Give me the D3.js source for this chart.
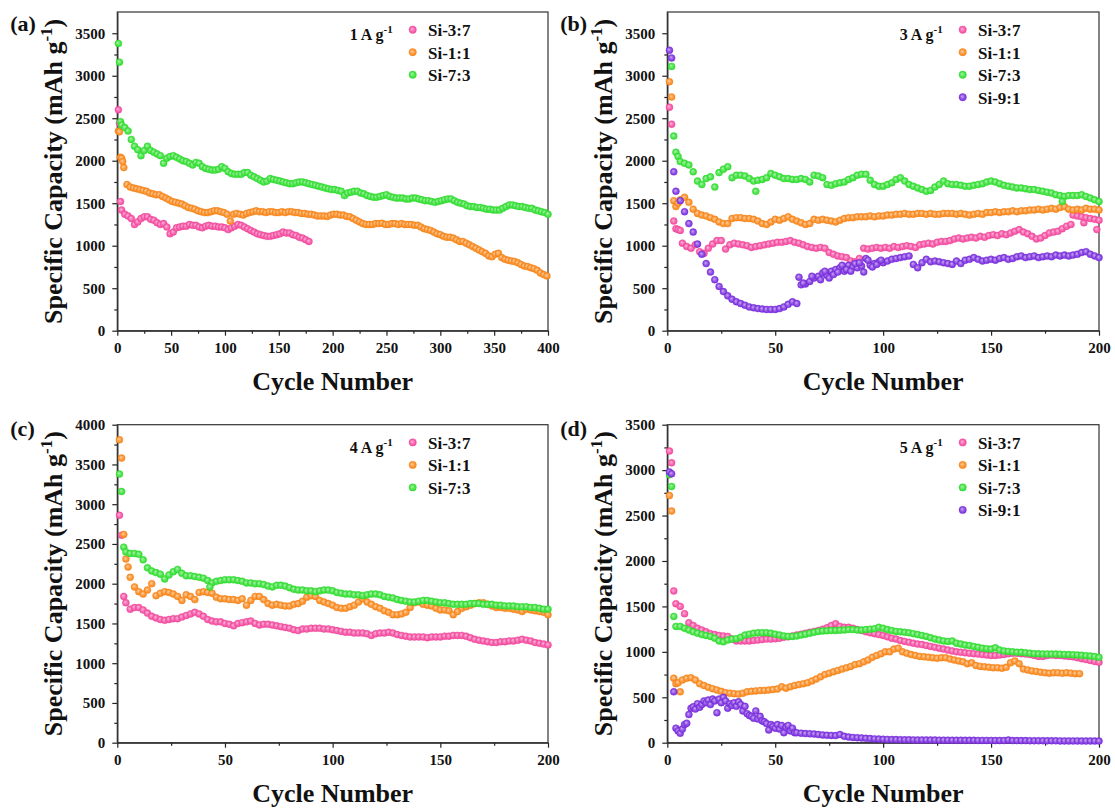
<!DOCTYPE html>
<html>
<head>
<meta charset="utf-8">
<script src="https://cdn.jsdelivr.net/npm/d3@7"></script>
<style>
body { margin: 0; background: #fff; }
svg text { font-family: "Liberation Serif", "Times New Roman", serif; font-weight: bold; fill: #111; }
</style>
</head>
<body>
<svg id="chart" width="1115" height="811"></svg>
<script>
// ---- data (cycle number -> capacity, mAh/g) ----
// *_HEAD / *_EXTRA are explicit [cycle, value] pairs, the plain arrays are
// values at regular cycles (start/step given in the panel table below)

const SERIES_NAMES = ["Si-3:7", "Si-1:1", "Si-7:3", "Si-9:1"];
const RATES = ["1", "3", "4", "5"];
const X_TICKS_A = [0, 50, 100, 150, 200, 250, 300, 350, 400];
const X_TICKS = [0, 50, 100, 150, 200];
const Y_TICKS = [0, 500, 1000, 1500, 2000, 2500, 3000, 3500];
const Y_TICKS_C = [0, 500, 1000, 1500, 2000, 2500, 3000, 3500, 4000];

// (a) 1 A/g
const A_SI37_HEAD = [[1, 2600], [2, 2440], [3, 1520]];
const A_SI37 = [1420,1370,1350,1320,1250,1280,1320,1340,1340,1310,1300,1270,1250,1260,1220,1140,1160,1210,1220,1230,
  1230,1250,1240,1240,1220,1210,1230,1240,1230,1230,1220,1220,1210,1190,1210,1230,1250,1240,1220,1200,
  1180,1160,1140,1130,1120,1110,1110,1120,1130,1140,1160,1150,1150,1130,1120,1100,1090,1070,1050];
const A_SI11_HEAD = [[1, 2350], [2, 2340], [3, 2040], [4, 2030], [5, 1990]];
const A_SI11 = [1920,1720,1690,1680,1670,1660,1650,1640,1620,1610,1600,1600,1580,1560,1540,1520,1510,1500,1490,1470,
  1450,1440,1430,1410,1400,1390,1390,1400,1410,1410,1400,1390,1370,1290,1370,1380,1370,1360,1380,1390,
  1400,1410,1400,1400,1390,1400,1400,1390,1390,1400,1390,1400,1400,1390,1390,1380,1380,1370,1370,1360,
  1350,1350,1350,1345,1360,1370,1370,1360,1360,1345,1340,1320,1300,1280,1260,1250,1250,1250,1260,1260,
  1265,1250,1250,1260,1260,1250,1260,1250,1250,1250,1240,1240,1220,1200,1190,1180,1160,1140,1130,1110,
  1100,1100,1090,1070,1050,1050,1030,1010,990,970,950,930,910,880,870,900,910,860,840,830,
  820,815,800,780,760,755,740,730,710,680,660,645];
const A_SI73_HEAD = [[1, 3380], [2, 3160], [3, 2460]];
const A_SI73 = [2420,2390,2350,2250,2170,2130,2060,2120,2170,2120,2100,2080,2060,1970,2030,2050,2060,2040,2020,2000,
  1990,1970,1950,1980,1970,1930,1910,1900,1890,1890,1900,1930,1910,1870,1850,1840,1840,1840,1860,1860,
  1830,1810,1790,1770,1750,1760,1790,1780,1770,1760,1750,1740,1730,1730,1740,1750,1750,1740,1730,1720,
  1710,1700,1690,1680,1670,1660,1660,1650,1640,1590,1620,1630,1640,1640,1620,1610,1590,1580,1570,1570,
  1580,1590,1600,1580,1570,1560,1560,1560,1550,1550,1560,1560,1550,1540,1530,1530,1520,1510,1520,1530,
  1540,1550,1550,1530,1510,1500,1490,1470,1460,1460,1450,1450,1440,1430,1430,1420,1420,1420,1440,1460,
  1480,1480,1470,1460,1460,1450,1440,1440,1420,1410,1400,1390,1370];

// (b) 3 A/g
const B_SI37_HEAD = [[1, 2630], [2, 2430], [3, 1290], [4, 1200], [5, 1190], [6, 1180]];
const B_SI37 = [1030,990,970,1010,930,910,970,1020,1060,1060,960,1010,1030,1020,1010,1000,980,990,1000,1010,
  1020,1030,1040,1040,1050,1060,1040,1030,1010,990,980,970,980,970,920,900,880,870,860,820,
  810,850,970,960,970,980,970,980,970,990,980,990,1000,990,980,1010,1020,1030,1020,1040,
  1050,1050,1060,1080,1090,1080,1090,1100,1090,1110,1100,1120,1130,1120,1140,1130,1150,1170,1190,1160,
  1140,1110,1080,1090,1120,1150,1160,1170,1200,1230,1250];
const B_SI37_EXTRA = [[188, 1360], [190, 1350], [192, 1340], [193, 1270], [194, 1330], [196, 1320], [198, 1310], [199, 1190], [200, 1300]];
const B_SI11_HEAD = [[1, 2930], [2, 2750], [3, 1530], [4, 1460], [5, 1500]];
const B_SI11 = [1540,1570,1510,1430,1380,1360,1350,1330,1310,1280,1260,1260,1320,1330,1330,1320,1320,1310,1290,1260,
  1250,1280,1310,1300,1320,1340,1310,1290,1270,1250,1260,1310,1300,1310,1300,1290,1280,1300,1320,1330,
  1330,1340,1340,1340,1350,1340,1350,1350,1360,1360,1370,1370,1380,1370,1370,1380,1380,1370,1380,1370,
  1370,1380,1380,1380,1370,1380,1370,1360,1370,1380,1370,1390,1390,1400,1390,1400,1400,1410,1400,1410,
  1410,1420,1420,1430,1420,1430,1440,1430,1450,1460,1430,1420,1430,1420,1440,1430,1430,1420];
const B_SI73_HEAD = [[2, 3110], [3, 2290], [4, 2100], [5, 2050]];
const B_SI73 = [1990,1970,1950,1870,1760,1720,1790,1810,1690,1860,1900,1930,1800,1830,1830,1820,1790,1760,1770,1780,
  1800,1850,1830,1810,1790,1790,1780,1780,1790,1780,1750,1830,1820,1800,1720,1710,1730,1740,1750,1780,
  1800,1830,1840,1840,1770,1720,1700,1700,1720,1740,1780,1800,1760,1720,1700,1680,1660,1640,1650,1690,
  1720,1760,1730,1720,1720,1710,1700,1700,1710,1720,1730,1750,1760,1750,1730,1710,1700,1690,1680,1680,
  1670,1660,1660,1650,1640,1630,1620,1600,1590,1580,1590,1590,1590,1600,1580,1560,1540,1520];
const B_SI73_EXTRA = [[41, 1640], [183, 1520]];
const B_SI91_HEAD = [[1, 3300], [2, 3210], [3, 1870], [61, 630]];
const B_SI91 = [1640,1530,1400,1260,1160,1020,900,790,690,600,520,460,410,370,340,320,300,280,270,260,
  255,250,250,250,260,280,310,340,320,540,550,580,620,640,680,650,700,720,740,700,
  770,750,740,760,850,770,790,810,800,820,840,850,860,870,880,780,740,800,840,810,
  820,810,800,790,780,820,790,830,840,860,840,820,830,840,830,850,860,840,850,870,
  880,860,870,880,860,870,880,870,890,880,890,880,890,900,920,930,900,880,860];
const B_SI91_EXTRA = [[63, 560], [67, 640], [71, 600], [73, 700], [75, 620], [77, 660], [79, 690], [81, 770], [83, 720],
  [85, 700], [87, 790], [89, 800], [91, 690], [93, 830], [95, 750], [97, 780], [99, 830]];

// (c) 4 A/g
const C_SI37_HEAD = [[1, 2860], [2, 2610], [3, 1840]];
const C_SI37 = [1760,1680,1700,1700,1670,1630,1590,1570,1550,1540,1550,1560,1560,1580,1600,1620,1640,1620,1590,1550,
  1530,1520,1520,1500,1490,1470,1500,1510,1520,1530,1500,1480,1490,1490,1480,1470,1460,1450,1440,1420,
  1410,1430,1430,1440,1440,1440,1430,1430,1420,1410,1400,1390,1390,1380,1380,1380,1370,1350,1370,1380,
  1380,1390,1380,1360,1350,1340,1330,1330,1330,1330,1320,1330,1330,1330,1340,1340,1350,1350,1350,1340,
  1320,1300,1290,1280,1270,1260,1260,1270,1270,1280,1280,1290,1300,1290,1280,1260,1250,1240,1230];
const C_SI11_HEAD = [[1, 3810], [2, 3580], [3, 2620], [4, 2310], [5, 2210]];
const C_SI11 = [2080,1960,1900,1870,1920,2000,1850,1880,1900,1890,1870,1840,1790,1860,1840,1800,1890,1900,1890,1880,
  1830,1810,1810,1800,1800,1790,1810,1730,1790,1840,1840,1800,1750,1730,1740,1730,1720,1720,1740,1750,
  1780,1830,1850,1840,1790,1770,1750,1730,1700,1690,1690,1710,1730,1770,1810,1770,1740,1710,1690,1660,
  1640,1610,1610,1620,1640,1700,1760,1770,1740,1730,1720,1690,1670,1670,1660,1610,1650,1690,1710,1730,
  1750,1760,1760,1740,1720,1700,1700,1690,1690,1680,1670,1650,1680,1670,1660,1650,1640,1610];
const C_SI73_HEAD = [[1, 3380], [2, 3160], [3, 2460]];
const C_SI73 = [2400,2380,2380,2370,2300,2200,2160,2140,2120,2060,2110,2150,2180,2130,2100,2100,2090,2080,2070,2040,
  2010,2030,2040,2050,2050,2050,2040,2030,2010,2010,2000,2000,1990,1970,1960,1980,1980,1970,1950,1930,
  1920,1920,1910,1910,1900,1910,1920,1920,1910,1890,1880,1870,1870,1860,1860,1850,1860,1870,1870,1860,
  1840,1830,1820,1800,1790,1780,1770,1770,1780,1790,1790,1780,1770,1760,1760,1750,1740,1740,1740,1740,
  1750,1750,1750,1740,1740,1740,1730,1730,1720,1720,1720,1710,1710,1710,1700,1700,1690,1680,1680];
const C_SI73_EXTRA = [[43, 1960]];

// (d) 5 A/g
const D_SI37_HEAD = [[1, 3210], [2, 3080], [3, 1670]];
const D_SI37 = [1530,1500,1420,1320,1290,1260,1240,1220,1200,1190,1180,1175,1170,1140,1120,1120,1120,1120,1125,1130,
  1135,1140,1140,1145,1150,1160,1165,1175,1185,1195,1205,1215,1225,1235,1250,1265,1290,1310,1280,1270,
  1270,1260,1245,1235,1220,1210,1200,1190,1180,1165,1150,1140,1125,1115,1105,1095,1085,1080,1070,1060,
  1050,1040,1030,1020,1010,1000,995,990,985,980,975,970,965,960,960,965,970,980,985,985,
  980,975,970,960,950,950,960,965,960,960,955,950,945,935,925,915,905,895,885];
const D_SI11_HEAD = [[1, 2720], [2, 2550], [3, 710], [4, 650], [5, 660], [6, 560]];
const D_SI11 = [690,710,715,690,650,630,610,595,580,565,550,545,540,535,545,560,565,570,575,575,
  580,585,590,615,600,615,630,640,650,660,680,700,725,750,765,780,795,810,825,840,
  860,870,890,910,940,960,980,1000,1000,1030,1040,1000,985,970,960,950,945,940,935,930,
  935,935,920,910,900,890,870,880,850,840,835,830,825,825,820,830,880,900,870,810,
  800,790,785,775,770,765,770,770,765,770,765,760,760];
const D_SI73_HEAD = [[1, 2950], [2, 2820], [3, 1390]];
const D_SI73 = [1280,1280,1260,1240,1220,1205,1190,1180,1170,1150,1120,1110,1130,1140,1145,1160,1185,1195,1205,1210,
  1210,1210,1205,1195,1185,1175,1170,1170,1175,1185,1195,1205,1215,1225,1230,1232,1235,1235,1238,1240,
  1245,1245,1240,1240,1245,1250,1255,1270,1260,1245,1235,1225,1220,1215,1210,1200,1190,1180,1170,1155,
  1140,1130,1120,1115,1120,1095,1085,1075,1070,1060,1050,1040,1035,1030,1045,1020,1010,1005,1000,995,
  995,990,985,980,978,976,976,975,975,974,972,970,968,965,962,958,954,948,940];
const D_SI91_EARLY = [2980,2960,560,160,130,105,150,200,215,310,380,395,370,430,390,420,460,440,470,420,
  480,460,330,480,440,500,460,380,430,410,440,400,450,420,350,400,320,300,290,270,
  350,260,290,240,230,210,140,200,180,160,200,150,190,110,170,190,130,160,110,110];
const D_SI91 = [105,100,98,95,90,85,82,80,78,90,70,62,58,55,52,48,45,42,40,38,
  36,35,34,33,32,32,31,30,30,30,29,29,28,28,28,27,27,27,26,26,
  26,25,25,25,25,24,24,24,30,24,23,23,23,22,22,22,22,21,21,21,
  20,20,20,20,20,19,19,19,19,18];

// ---- helpers ----
function seq(start, step, values) {
  return values.map((v, i) => [start + i * step, v]);
}

const COLORS = { "Si-3:7": "#f64aa0", "Si-1:1": "#fb8718", "Si-7:3": "#30e030", "Si-9:1": "#7a2de0" };
const FONT = "'Liberation Serif', 'Times New Roman', serif";

const panels = [
  { label: "(a)", rate: RATES[0], left: 117.3, top: 12, w: 430.7, h: 318.7, xMax: 400, xTicks: X_TICKS_A, yMax: 3750, yTicks: Y_TICKS,
    series: [
      A_SI37_HEAD.concat(seq(4, 3, A_SI37)),
      A_SI11_HEAD.concat(seq(6, 3, A_SI11)),
      A_SI73_HEAD.concat(seq(4, 3, A_SI73))
    ] },
  { label: "(b)", rate: RATES[1], left: 667.3, top: 12, w: 431.7, h: 318.7, xMax: 200, xTicks: X_TICKS, yMax: 3750, yTicks: Y_TICKS,
    series: [
      B_SI37_HEAD.concat(seq(7, 2, B_SI37), B_SI37_EXTRA),
      B_SI11_HEAD.concat(seq(6, 2, B_SI11)),
      B_SI73_HEAD.concat(seq(6, 2, B_SI73), B_SI73_EXTRA),
      B_SI91_HEAD.concat(seq(4, 2, B_SI91), B_SI91_EXTRA)
    ] },
  { label: "(c)", rate: RATES[2], left: 117.3, top: 424.7, w: 430.7, h: 318, xMax: 200, xTicks: X_TICKS, yMax: 4000, yTicks: Y_TICKS_C,
    series: [
      C_SI37_HEAD.concat(seq(4, 2, C_SI37)),
      C_SI11_HEAD.concat(seq(6, 2, C_SI11)),
      C_SI73_HEAD.concat(seq(4, 2, C_SI73), C_SI73_EXTRA)
    ] },
  { label: "(d)", rate: RATES[3], left: 667.3, top: 424.7, w: 431.7, h: 318, xMax: 200, xTicks: X_TICKS, yMax: 3500, yTicks: Y_TICKS,
    series: [
      D_SI37_HEAD.concat(seq(4, 2, D_SI37)),
      D_SI11_HEAD.concat(seq(7, 2, D_SI11)),
      D_SI73_HEAD.concat(seq(4, 2, D_SI73)),
      seq(1, 1, D_SI91_EARLY).concat(seq(62, 2, D_SI91))
    ] }
];

const svg = d3.select("#chart");

// shaded ball markers
const defs = svg.append("defs");
SERIES_NAMES.forEach((name, i) => {
  const c = COLORS[name];
  const grad = defs.append("radialGradient").attr("id", "ball" + i)
    .attr("cx", "50%").attr("cy", "50%").attr("r", "50%").attr("fx", "40%").attr("fy", "38%");
  grad.append("stop").attr("offset", "0%").attr("stop-color", d3.interpolateRgb(c, "#fff")(0.6));
  grad.append("stop").attr("offset", "55%").attr("stop-color", d3.interpolateRgb(c, "#fff")(0.2));
  grad.append("stop").attr("offset", "100%").attr("stop-color", c);
});

const R = 3.5;

panels.forEach(p => {
  const g = svg.append("g").attr("transform", `translate(${p.left},${p.top})`);
  const x = d3.scaleLinear().domain([0, p.xMax]).range([0, p.w]);
  const y = d3.scaleLinear().domain([0, p.yMax]).range([p.h, 0]);

  // minor ticks
  const xMinor = d3.range(25, p.xMax, 50);
  const yMinor = d3.range(250, p.yMax, 500);
  g.append("g").attr("class", "minor").attr("transform", `translate(0,${p.h})`)
    .call(d3.axisBottom(x).tickValues(xMinor).tickSize(3).tickFormat(""));
  g.append("g").attr("class", "minor")
    .call(d3.axisLeft(y).tickValues(yMinor).tickSize(3).tickFormat(""));
  g.selectAll(".minor .domain").remove();

  // major axes
  const xAxis = g.append("g").attr("transform", `translate(0,${p.h})`)
    .call(d3.axisBottom(x).tickValues(p.xTicks).tickFormat(d3.format("d"))
      .tickSize(5).tickSizeOuter(0).tickPadding(7));
  const yAxis = g.append("g")
    .call(d3.axisLeft(y).tickValues(p.yTicks).tickFormat(d3.format("d"))
      .tickSize(5).tickSizeOuter(0).tickPadding(7));
  [xAxis, yAxis].forEach(a => {
    a.attr("font-family", FONT).attr("font-size", 15).attr("font-weight", "bold");
    a.selectAll("text").attr("fill", "#111");
  });
  g.selectAll(".tick line").attr("stroke", "#222").attr("stroke-width", 1.2);
  g.selectAll(".domain").attr("stroke", "#222").attr("stroke-width", 1.3);

  // frame
  g.append("rect").attr("width", p.w).attr("height", p.h)
    .attr("fill", "none").attr("stroke", "#333").attr("stroke-width", 1.2);

  // data
  p.series.forEach((pts, si) => {
    g.append("g").selectAll("circle")
      .data(pts)
      .join("circle")
      .attr("cx", d => x(d[0]))
      .attr("cy", d => y(d[1]))
      .attr("r", R)
      .attr("fill", `url(#ball${si})`)
      .attr("stroke", d3.color(COLORS[SERIES_NAMES[si]]).darker(0.2))
      .attr("stroke-width", 0.4);
  });

  // legend
  const rate = g.append("text").attr("x", 232.4).attr("y", 28).style("font-size", "16px");
  rate.append("tspan").text(p.rate + " A g");
  rate.append("tspan").attr("dy", -7).style("font-size", "11px").text("-1");

  p.series.forEach((pts, si) => {
    const ly = 17.7 + 22.5 * si;
    g.append("circle").attr("cx", 295.4).attr("cy", ly).attr("r", R + 0.2)
      .attr("fill", `url(#ball${si})`).attr("stroke", d3.color(COLORS[SERIES_NAMES[si]]).darker(0.2)).attr("stroke-width", 0.4);
    g.append("text").attr("x", 310.7).attr("y", ly + 6.5).style("font-size", "17px").text(SERIES_NAMES[si]);
  });

  // axis titles
  g.append("text").attr("x", p.w / 2).attr("y", p.h + 59.5).attr("text-anchor", "middle")
    .style("font-size", "26px").text("Cycle Number");

  const yt = g.append("text").attr("transform", `translate(-55,${p.h / 2}) rotate(-90)`)
    .attr("text-anchor", "middle").style("font-size", "26px");
  yt.append("tspan").text("Specific Capacity (mAh g");
  yt.append("tspan").attr("dy", -10).style("font-size", "17px").text("-1");
  yt.append("tspan").attr("dy", 10).text(")");

  // panel label
  svg.append("text").attr("x", p.left - 107).attr("y", p.top < 100 ? 31 : 436)
    .style("font-size", "22px").text(p.label);
});
</script>
</body>
</html>
